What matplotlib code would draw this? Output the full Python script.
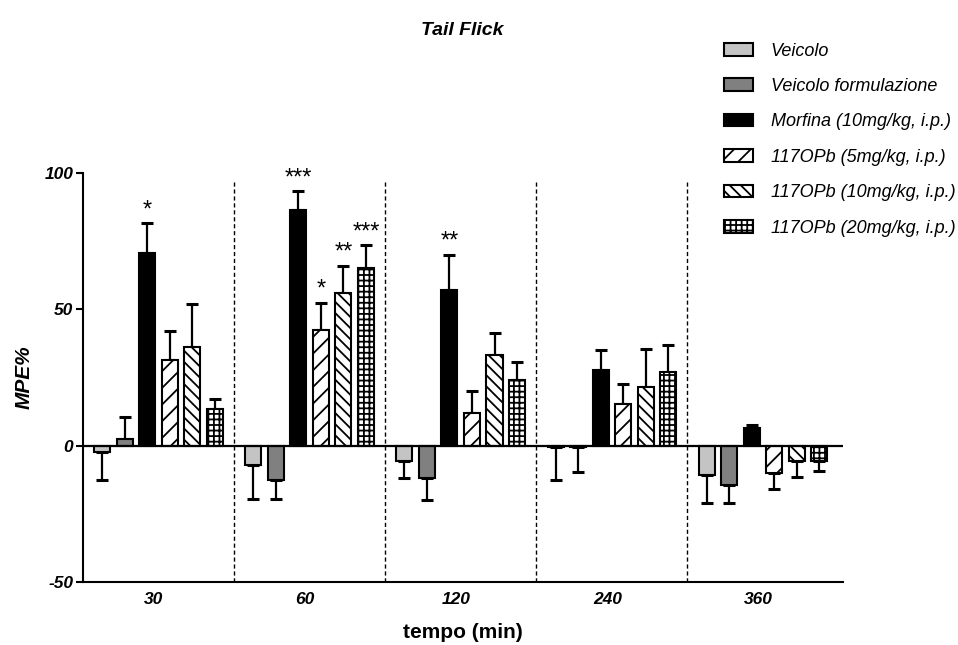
import numpy as np
import matplotlib
matplotlib.use("Agg")
import matplotlib.pyplot as plt

plt.rcParams['font.family'] = ['Liberation Sans', 'DejaVu Sans']
plt.rcParams['hatch.linewidth'] = 1.3
plt.rcParams['axes.unicode_minus'] = False

# time points (min)
timepoints = ['30', '60', '120', '240', '360']

groups = ['Veicolo', 'Veicolo formulazione', 'Morfina (10mg/kg, i.p.)',
          '117OPb (5mg/kg, i.p.)', '117OPb (10mg/kg, i.p.)', '117OPb (20mg/kg, i.p.)']

# MPE% means per group, one value per time point
veicolo = [-2.5, -7.0, -5.5, -0.5, -10.6]
veicolo_form = [2.5, -12.5, -12.0, -0.5, -14.3]
morfina = [70.5, 86.5, 57.0, 27.7, 6.5]
opb_5 = [31.5, 42.5, 12.0, 15.3, -10.0]
opb_10 = [36.0, 56.0, 33.3, 21.4, -5.5]
opb_20 = [13.5, 65.0, 24.0, 27.0, -5.5]

# SEM
veicolo_err = [10.0, 12.5, 6.3, 12.0, 10.5]
veicolo_form_err = [8.0, 7.0, 8.0, 9.3, 6.8]
morfina_err = [11.0, 6.8, 13.0, 7.3, 1.2]
opb_5_err = [10.5, 10.0, 8.0, 7.4, 6.0]
opb_10_err = [16.0, 10.0, 8.0, 14.2, 6.0]
opb_20_err = [3.5, 8.5, 6.8, 10.0, 3.7]

# significance marks (group index, time index, label)
stars = [(2, 0, '*'), (2, 1, '***'), (3, 1, '*'), (4, 1, '**'), (5, 1, '***'), (2, 2, '**')]

means = [veicolo, veicolo_form, morfina, opb_5, opb_10, opb_20]
errs = [veicolo_err, veicolo_form_err, morfina_err, opb_5_err, opb_10_err, opb_20_err]
colors = ['#c4c4c4', '#808080', 'black', 'white', 'white', 'white']
hatches = [None, None, None, '//', '\\\\\\', '+++']

fig = plt.figure(figsize=(9.58, 6.45), dpi=100)
ax = fig.add_axes([0.0866, 0.0977, 0.7934, 0.6341])

pitch = 0.149
width = 0.106
x = np.arange(len(timepoints))

for j in range(len(groups)):
    pos = x + (j - 2.5) * pitch
    m = np.array(means[j])
    e = np.array(errs[j])
    ax.bar(pos, m, width, color=colors[j], edgecolor='black', linewidth=1.5,
           hatch=hatches[j], label=groups[j], zorder=3)
    # one-sided error bars, away from zero
    lower = np.where(m < 0, e, 0)
    upper = np.where(m >= 0, e, 0)
    ax.errorbar(pos, m, yerr=[lower, upper], fmt='none', ecolor='black',
                elinewidth=1.6, capsize=4, capthick=2.2, zorder=2)

for j, i, s in stars:
    top = means[j][i] + errs[j][i]
    ax.text(i + (j - 2.5) * pitch, top + 0.8, s, ha='center', va='bottom',
            fontsize=17)

ax.axhline(0, color='black', linewidth=1.6, zorder=4)
for b in range(len(timepoints) - 1):
    ax.axvline(b + 0.5, ymin=0, ymax=0.98, color='black', linestyle=(0, (3, 2)),
               linewidth=1.0, zorder=1)

ax.set_xlim(-0.5, 4.53)
ax.set_ylim(-50, 100)
ax.set_yticks([-50, 0, 50, 100])
ax.set_xticks(x - 0.03)
ax.set_xticklabels(timepoints)
ax.tick_params(axis='x', length=0, pad=7)
ax.tick_params(axis='y', length=5, width=1.5, direction='out', pad=2)
for lab in ax.get_xticklabels() + ax.get_yticklabels():
    lab.set_fontsize(12.5)
    lab.set_fontweight('bold')
    lab.set_fontstyle('italic')

for side in ['top', 'right']:
    ax.spines[side].set_visible(False)
ax.spines['left'].set_linewidth(1.5)
ax.spines['bottom'].set_linewidth(1.5)

ax.set_ylabel('MPE%', fontsize=15, fontweight='bold', fontstyle='italic', labelpad=8)
ax.set_xlabel('tempo (min)', fontsize=15, fontweight='bold', labelpad=12)
fig.text(0.483, 0.953, 'Tail Flick', ha='center', va='center', fontsize=14,
         fontweight='bold', fontstyle='italic')

leg = fig.legend(loc='upper left', bbox_to_anchor=(0.746, 0.948), frameon=False,
                 borderpad=0, handlelength=1.6, handleheight=0.7, labelspacing=1.02,
                 handletextpad=1.0, prop={'size': 13, 'style': 'italic'})

fig.savefig('out.png', dpi=100)
